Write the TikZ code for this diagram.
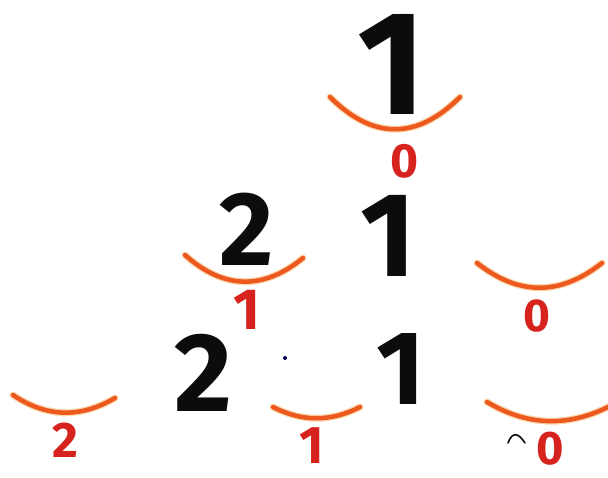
\documentclass[tikz,border=0pt]{standalone}
\usepackage{fontspec}
\setmainfont{Fira Sans}
\definecolor{ink}{RGB}{12,12,12}
\definecolor{redink}{RGB}{215,35,30}
\definecolor{arcink}{RGB}{236,88,30}
\definecolor{arcglow}{RGB}{250,190,120}
\tikzset{
  bignum/.style={inner sep=0pt, text=ink, font=\bfseries},
  rednum/.style={inner sep=0pt, text=redink, font=\bfseries},
  smile/.style={draw=arcink, line width=4.5pt, line cap=round},
  smileglow/.style={draw=arcglow, line width=7pt, line cap=round, opacity=0.6},
}
\newcommand{\fs}[1]{\fontsize{#1}{#1}\selectfont}
\begin{document}
\begin{tikzpicture}[x=1pt,y=-1pt]
\useasboundingbox[fill=white] (0,0) rectangle (608,478);
% black digits
\node[bignum] (t1) at (392,64) {\fs{148}1};
\node[bignum] (m2) at (247,229) {\fs{105}2};
\node[bignum] (m1) at (388,236) {\fs{120}1};
\node[bignum] (b2) at (203,373) {\fs{112}2};
\node[bignum] (b1) at (401,369) {\fs{105}1};
% arcs (glow then stroke)
\foreach \s in {smileglow,smile}{
  \draw[\s] (330,97) .. controls (373,140) and (417,140) .. (460,97);
  \draw[\s] (185,255) .. controls (224,290) and (264,290) .. (303,258);
  \draw[\s] (477,263) .. controls (519,296) and (560,296) .. (602,263);
  \draw[\s] (13,395) .. controls (47,418) and (81,418) .. (115,398);
  \draw[\s] (273,407) .. controls (302,422) and (331,422) .. (360,407);
  \draw[\s] (487,402) .. controls (529,427) and (570,427) .. (612,405);
}
% red digits
\node[rednum] (r0a) at (405,161) {\fs{48}0};
\node[rednum] (r1a) at (247,310) {\fs{58}1};
\node[rednum] (r0b) at (537,316) {\fs{46}0};
\node[rednum] (r2a) at (65,440) {\fs{50}2};
\node[rednum] (r1b) at (312,446) {\fs{53}1};
\node[rednum] (r0c) at (550,449) {\fs{47}0};
% small marks
\fill[black!70!blue] (285,358) circle (2pt);
\draw[ink, line width=1.6pt, line cap=round] (508,443) .. controls (512,432) and (518,432) .. (525,443);
\end{tikzpicture}
\end{document}
